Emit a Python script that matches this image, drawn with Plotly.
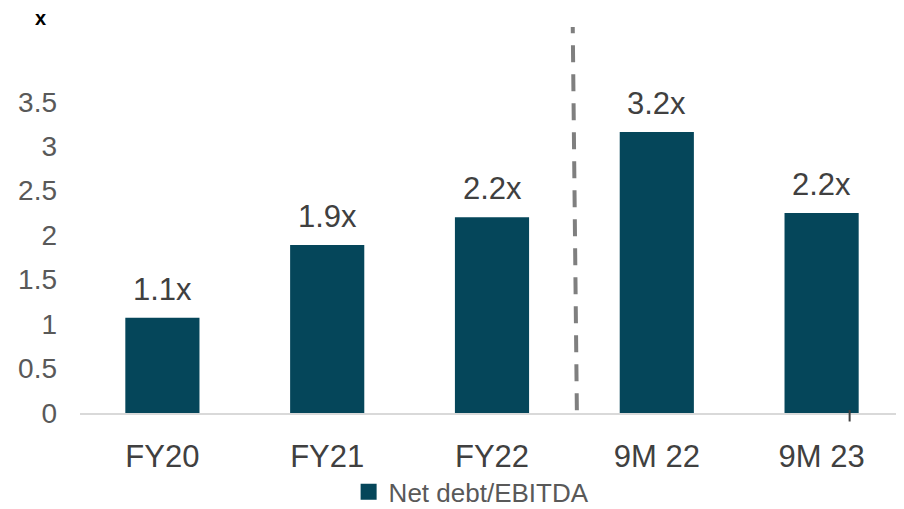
import plotly.graph_objects as go

categories = ["FY20", "FY21", "FY22", "9M 22", "9M 23"]
values = [1.07, 1.89, 2.2, 3.16, 2.25]
labels = ["1.1x", "1.9x", "2.2x", "3.2x", "2.2x"]
y_ticks = [0, 0.5, 1, 1.5, 2, 2.5, 3, 3.5]
y_tick_text = ["0", "0.5", "1", "1.5", "2", "2.5", "3", "3.5"]
series_name = "Net debt/EBITDA"

FONT = "Liberation Sans, Arial, sans-serif"
BAR = "#05465A"

fig = go.Figure()
fig.add_trace(go.Bar(
    x=categories, y=values, name=series_name,
    marker=dict(color=BAR, line=dict(width=0)),
    width=0.45, showlegend=False,
))
# legend entry with a larger square symbol
fig.add_trace(go.Scatter(
    x=[None], y=[None], mode="markers", name=series_name,
    marker=dict(symbol="square", size=16, color=BAR), showlegend=True,
))

for c, v, t in zip(categories, values, labels):
    fig.add_annotation(x=c, y=v, text=t, showarrow=False, yanchor="bottom",
                       yshift=9, font=dict(family=FONT, size=31, color="#404040"))

# dashed separator between FY and 9M
fig.add_shape(type="line", xref="x", yref="y", x0=2.515, x1=2.49, y0=0.03, y1=4.34,
              line=dict(color="#7F7F7F", width=4, dash="17px,12px"))
# small tick mark near 9M 23
fig.add_shape(type="line", xref="x", yref="paper", x0=4.17, x1=4.17, y0=-0.022, y1=0.008,
              line=dict(color="#404040", width=2))

fig.add_annotation(xref="paper", yref="paper", x=-0.0485, y=1.023, xanchor="center", yanchor="middle",
                   text="<b>x</b>", showarrow=False,
                   font=dict(family=FONT, size=20, color="#000000"))

fig.update_layout(
    width=896, height=501,
    margin=dict(l=72, r=0, t=19, b=96),
    paper_bgcolor="white", plot_bgcolor="white",
    font=dict(family=FONT),
    showlegend=True,
    legend=dict(orientation="h", x=0.326, xanchor="left",
                yref="container", y=0.034, yanchor="middle",
                font=dict(family=FONT, size=26, color="#595959"),
                itemwidth=30),
    xaxis=dict(showline=True, linecolor="#D9D9D9", linewidth=2, showgrid=False,
               range=[-0.5, 4.5], automargin=False,
               tickfont=dict(family=FONT, size=31, color="#404040"),
               ticks="", ticklabelstandoff=15, fixedrange=True),
    yaxis=dict(range=[0, 4.34], tickvals=y_ticks, ticktext=y_tick_text, showgrid=False,
               zeroline=False, showline=False, automargin=False,
               tickfont=dict(family=FONT, size=28, color="#595959"),
               ticks="", ticklabelstandoff=22),
)

fig.write_html("out.html")
